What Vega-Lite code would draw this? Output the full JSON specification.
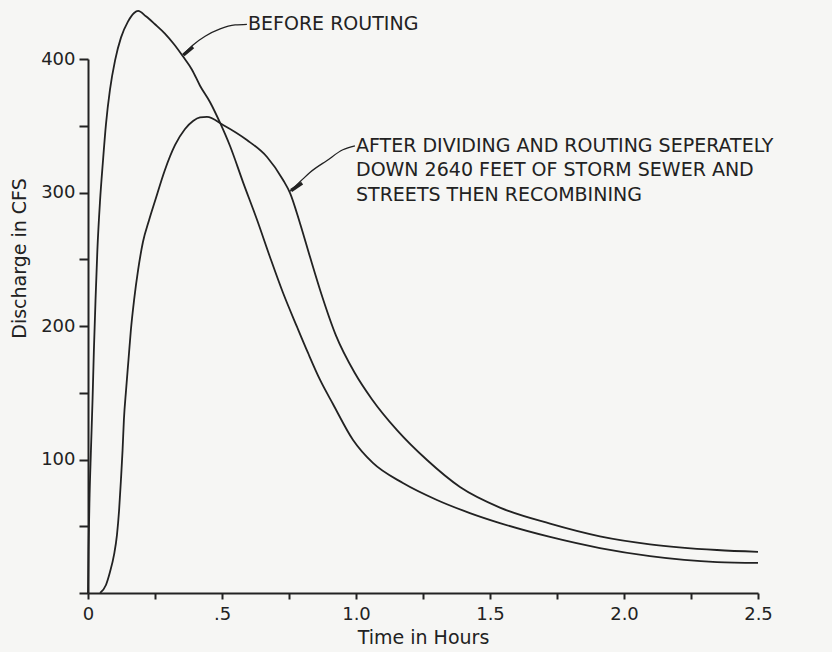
{
  "$schema": "https://vega.github.io/schema/vega-lite/v6.json",
  "width": 670,
  "height": 534,
  "autosize": {"type": "none"},
  "padding": {"left": 88, "top": 59, "right": 74, "bottom": 59},
  "background": "#f6f6f4",
  "config": {"view": {"stroke": null}, "font": "DejaVu Sans"},
  "datasets": {
    "curves": [
      {"series": "before", "t": 0, "q": 0},
      {"series": "before", "t": 0.002, "q": 32},
      {"series": "before", "t": 0.0056, "q": 70},
      {"series": "before", "t": 0.011, "q": 107},
      {"series": "before", "t": 0.017, "q": 145},
      {"series": "before", "t": 0.022, "q": 182},
      {"series": "before", "t": 0.028, "q": 219},
      {"series": "before", "t": 0.035, "q": 257},
      {"series": "before", "t": 0.045, "q": 294},
      {"series": "before", "t": 0.056, "q": 324},
      {"series": "before", "t": 0.067, "q": 351},
      {"series": "before", "t": 0.082, "q": 377},
      {"series": "before", "t": 0.101, "q": 399},
      {"series": "before", "t": 0.123, "q": 416},
      {"series": "before", "t": 0.149, "q": 428},
      {"series": "before", "t": 0.172, "q": 434.5},
      {"series": "before", "t": 0.187, "q": 436},
      {"series": "before", "t": 0.216, "q": 432},
      {"series": "before", "t": 0.25, "q": 426},
      {"series": "before", "t": 0.287, "q": 419},
      {"series": "before", "t": 0.321, "q": 411},
      {"series": "before", "t": 0.354, "q": 402},
      {"series": "before", "t": 0.388, "q": 392},
      {"series": "before", "t": 0.418, "q": 380},
      {"series": "before", "t": 0.455, "q": 367.8},
      {"series": "before", "t": 0.493, "q": 352.1},
      {"series": "before", "t": 0.53, "q": 334.8},
      {"series": "before", "t": 0.578, "q": 308},
      {"series": "before", "t": 0.631, "q": 279.4},
      {"series": "before", "t": 0.679, "q": 251.7},
      {"series": "before", "t": 0.728, "q": 224.7},
      {"series": "before", "t": 0.78, "q": 199.3},
      {"series": "before", "t": 0.821, "q": 179.8},
      {"series": "before", "t": 0.866, "q": 159.6},
      {"series": "before", "t": 0.914, "q": 141.6},
      {"series": "before", "t": 0.989, "q": 114.6},
      {"series": "before", "t": 1.063, "q": 97.4},
      {"series": "before", "t": 1.175, "q": 82.4},
      {"series": "before", "t": 1.302, "q": 69.7},
      {"series": "before", "t": 1.425, "q": 59.9},
      {"series": "before", "t": 1.537, "q": 52.4},
      {"series": "before", "t": 1.724, "q": 42},
      {"series": "before", "t": 1.91, "q": 33.7},
      {"series": "before", "t": 2.097, "q": 27.7},
      {"series": "before", "t": 2.347, "q": 23.2},
      {"series": "before", "t": 2.5, "q": 22.5},
      {"series": "after", "t": 0.045, "q": 0},
      {"series": "after", "t": 0.067, "q": 6},
      {"series": "after", "t": 0.082, "q": 15.7},
      {"series": "after", "t": 0.097, "q": 28.5},
      {"series": "after", "t": 0.108, "q": 43.4},
      {"series": "after", "t": 0.116, "q": 62},
      {"series": "after", "t": 0.123, "q": 85},
      {"series": "after", "t": 0.129, "q": 107},
      {"series": "after", "t": 0.134, "q": 130},
      {"series": "after", "t": 0.142, "q": 152},
      {"series": "after", "t": 0.151, "q": 174.5},
      {"series": "after", "t": 0.16, "q": 197},
      {"series": "after", "t": 0.172, "q": 219.5},
      {"series": "after", "t": 0.187, "q": 242},
      {"series": "after", "t": 0.205, "q": 262.9},
      {"series": "after", "t": 0.228, "q": 279.4},
      {"series": "after", "t": 0.25, "q": 293.6},
      {"series": "after", "t": 0.287, "q": 316.9},
      {"series": "after", "t": 0.325, "q": 335.6},
      {"series": "after", "t": 0.362, "q": 347.6},
      {"series": "after", "t": 0.392, "q": 353.6},
      {"series": "after", "t": 0.418, "q": 356.2},
      {"series": "after", "t": 0.444, "q": 356.6},
      {"series": "after", "t": 0.504, "q": 350.6},
      {"series": "after", "t": 0.593, "q": 339.3},
      {"series": "after", "t": 0.668, "q": 326.6},
      {"series": "after", "t": 0.728, "q": 309.4},
      {"series": "after", "t": 0.754, "q": 299.6},
      {"series": "after", "t": 0.791, "q": 277},
      {"series": "after", "t": 0.828, "q": 252},
      {"series": "after", "t": 0.866, "q": 227},
      {"series": "after", "t": 0.925, "q": 193},
      {"series": "after", "t": 0.995, "q": 165},
      {"series": "after", "t": 1.06, "q": 145},
      {"series": "after", "t": 1.153, "q": 122},
      {"series": "after", "t": 1.265, "q": 99.6},
      {"series": "after", "t": 1.388, "q": 79.4},
      {"series": "after", "t": 1.537, "q": 64},
      {"series": "after", "t": 1.724, "q": 52},
      {"series": "after", "t": 1.91, "q": 42.5},
      {"series": "after", "t": 2.097, "q": 36.5},
      {"series": "after", "t": 2.347, "q": 32.2},
      {"series": "after", "t": 2.5, "q": 30.8}
    ],
    "leaders": [
      {"note": "before", "t": 0.354, "q": 403},
      {"note": "before", "t": 0.392, "q": 410.5},
      {"note": "before", "t": 0.437, "q": 417},
      {"note": "before", "t": 0.493, "q": 422.5},
      {"note": "before", "t": 0.549, "q": 425.5},
      {"note": "before", "t": 0.593, "q": 426},
      {"note": "after", "t": 0.754, "q": 301},
      {"note": "after", "t": 0.791, "q": 308},
      {"note": "after", "t": 0.828, "q": 315},
      {"note": "after", "t": 0.892, "q": 324},
      {"note": "after", "t": 0.951, "q": 332},
      {"note": "after", "t": 0.996, "q": 335}
    ],
    "arrowheads": [
      {"note": "before", "t": 0.356, "q": 403},
      {"note": "before", "t": 0.392, "q": 409},
      {"note": "after", "t": 0.758, "q": 301.5},
      {"note": "after", "t": 0.799, "q": 307}
    ],
    "notes": [
      {"t": 0.597, "q": 426, "label": "BEFORE ROUTING"},
      {"t": 1.0, "q": 335, "label": "AFTER DIVIDING AND ROUTING SEPERATELY"},
      {"t": 1.0, "q": 316.5, "label": "DOWN 2640 FEET OF STORM SEWER AND"},
      {"t": 1.0, "q": 298, "label": "STREETS THEN RECOMBINING"}
    ]
  },
  "layer": [
    {
      "data": {"name": "curves"},
      "mark": {"type": "line", "interpolate": "monotone", "color": "#222222", "strokeWidth": 1.8},
      "encoding": {
        "x": {
          "field": "t",
          "type": "quantitative",
          "scale": {"domain": [0, 2.5], "nice": false},
          "axis": {
            "values": [0, 0.25, 0.5, 0.75, 1, 1.25, 1.5, 1.75, 2, 2.25, 2.5],
            "labelExpr": "datum.value == 0 ? '0' : datum.value == 0.5 ? '.5' : (datum.value * 2) % 1 == 0 ? format(datum.value, '.1f') : ''",
            "labelFlush": false,
            "labelOverlap": false,
            "grid": false,
            "title": "Time in Hours",
            "domainColor": "#222222",
            "domainWidth": 2,
            "tickColor": "#222222",
            "tickWidth": 2,
            "tickSize": 6,
            "labelFontSize": 18,
            "labelColor": "#222222",
            "labelPadding": 6,
            "titleFontSize": 19,
            "titleFontWeight": "normal",
            "titleColor": "#222222",
            "titlePadding": 5
          }
        },
        "y": {
          "field": "q",
          "type": "quantitative",
          "scale": {"domain": [0, 400], "nice": false},
          "axis": {
            "values": [0, 50, 100, 150, 200, 250, 300, 350, 400],
            "labelExpr": "datum.value > 0 && datum.value % 100 == 0 ? '' + datum.value : ''",
            "labelOverlap": false,
            "grid": false,
            "title": "Discharge in CFS",
            "titleX": -69,
            "titleY": 199,
            "titleAngle": -90,
            "titleAlign": "center",
            "titleBaseline": "middle",
            "domainColor": "#222222",
            "domainWidth": 2,
            "tickColor": "#222222",
            "tickWidth": 2,
            "tickSize": 9,
            "labelFontSize": 18,
            "labelColor": "#222222",
            "labelPadding": 4,
            "titleFontSize": 19,
            "titleFontWeight": "normal",
            "titleColor": "#222222"
          }
        },
        "detail": {"field": "series"}
      }
    },
    {
      "data": {"name": "leaders"},
      "mark": {"type": "line", "interpolate": "monotone", "color": "#222222", "strokeWidth": 1.3},
      "encoding": {
        "x": {"field": "t", "type": "quantitative"},
        "y": {"field": "q", "type": "quantitative"},
        "detail": {"field": "note"}
      }
    },
    {
      "data": {"name": "arrowheads"},
      "mark": {"type": "line", "color": "#222222", "strokeWidth": 3.5},
      "encoding": {
        "x": {"field": "t", "type": "quantitative"},
        "y": {"field": "q", "type": "quantitative"},
        "detail": {"field": "note"}
      }
    },
    {
      "data": {"name": "notes"},
      "mark": {"type": "text", "align": "left", "baseline": "middle", "fontSize": 19, "color": "#222222"},
      "encoding": {
        "x": {"field": "t", "type": "quantitative"},
        "y": {"field": "q", "type": "quantitative"},
        "text": {"field": "label"}
      }
    }
  ]
}
